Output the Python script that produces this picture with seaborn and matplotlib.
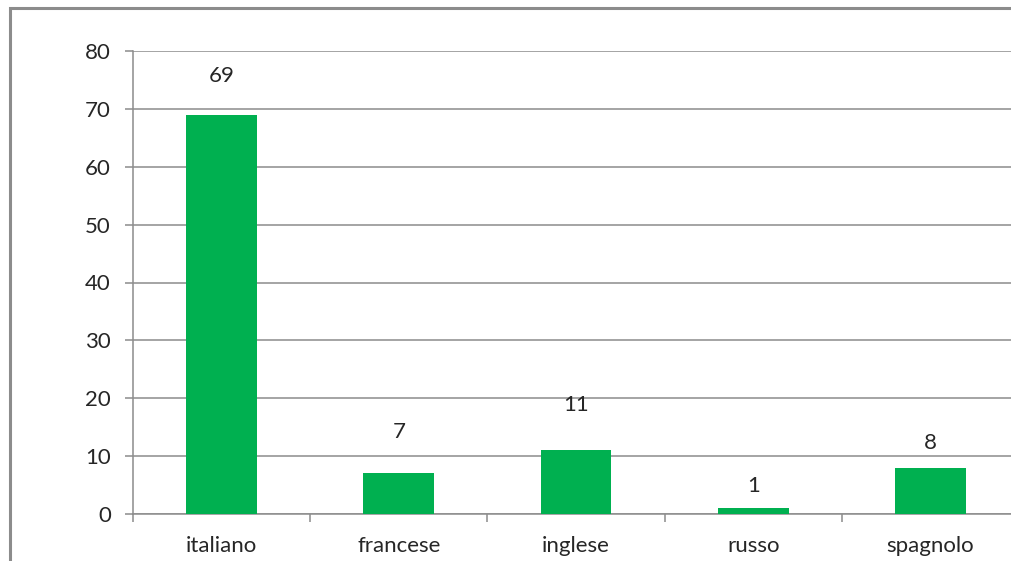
import pandas as pd
import seaborn as sns
import matplotlib
import matplotlib.pyplot as plt

matplotlib.use('Agg')

lingue = ['italiano', 'francese', 'inglese', 'russo', 'spagnolo']
valori = [69, 7, 11, 1, 8]
y_ticks = [0, 10, 20, 30, 40, 50, 60, 70, 80]

# label offsets above bar tops (points), as in the original
label_offsets = [20.5, 22.5, 25.5, 8.5, 10.5]

df = pd.DataFrame({'lingua': lingue, 'valore': valori})

sns.set_style('white')
plt.rcParams['font.family'] = ['Lato', 'DejaVu Sans']

W, H = 1012, 561
fig = plt.figure(figsize=(W / 100, H / 100), dpi=100)

# outer chart border
fig.patches.append(plt.Rectangle((10 / W, -0.1), 1.2, (H - 8) / H + 0.1,
                                 transform=fig.transFigure, fill=False,
                                 edgecolor='#8c8c8c', linewidth=2.2))

ax = fig.add_axes([133 / W, 1 - 514 / H, 886 / W, (514 - 51) / H])
sns.barplot(data=df, x='lingua', y='valore', color='#00b050', saturation=1,
            width=0.4, ax=ax, zorder=3, linewidth=0)

ax.set_ylim(0, 80)
ax.set_xlim(-0.5, len(lingue) - 0.5)
ax.set_yticks(y_ticks)
ax.set_xticks([i - 0.5 for i in range(len(lingue) + 1)], minor=False)
ax.set_xticklabels([])
ax.set_xticks(range(len(lingue)), minor=True)
ax.set_xticklabels(lingue, minor=True)
ax.set(xlabel='', ylabel='')

ax.yaxis.grid(True, color='#8c8c8c', linewidth=1.1, zorder=0)
ax.set_axisbelow(True)
for s in ['top', 'right']:
    ax.spines[s].set_visible(False)
ax.spines['left'].set_color('#8c8c8c')
ax.spines['bottom'].set_color('#8c8c8c')
ax.spines['left'].set_linewidth(1.1)
ax.spines['bottom'].set_linewidth(1.1)

ax.tick_params(axis='y', which='major', direction='out', length=6, width=1.1,
               color='#8c8c8c', labelsize=16, labelcolor='#262626', pad=10, left=True)
ax.tick_params(axis='x', which='major', direction='out', length=6, width=1.1,
               color='#8c8c8c', bottom=True)
ax.tick_params(axis='x', which='minor', length=0, labelsize=16,
               labelcolor='#262626', pad=16)

for i, v in enumerate(valori):
    ax.annotate(str(v), (i, v), xytext=(0, label_offsets[i]), textcoords='offset points',
                ha='center', va='bottom', fontsize=16, color='#262626')

fig.savefig('out.png', dpi=100)
